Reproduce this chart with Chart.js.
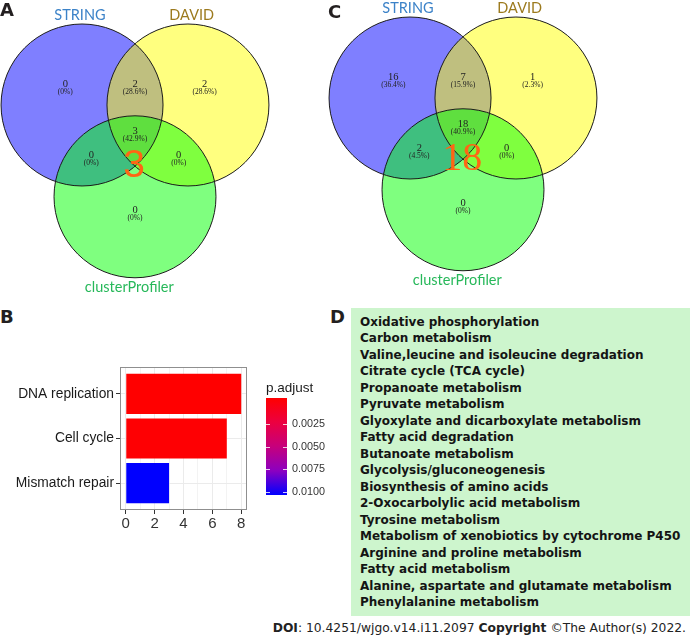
<!DOCTYPE html>
<html>
<head>
<meta charset="utf-8">
<script src="https://cdn.jsdelivr.net/npm/chart.js@4.4.0/dist/chart.umd.min.js"></script>
<style>
  html, body { margin: 0; padding: 0; background: #fff; }
  #fig { position: relative; width: 692px; height: 638px; overflow: hidden; }
  #fig canvas { position: absolute; }
  .tag { position: absolute; font: bold 18px 'DejaVu Sans', sans-serif; line-height: 18px; color: #231f20; }
  #listD {
    position: absolute; left: 351px; top: 308px; width: 339px; height: 308px;
    box-sizing: border-box; padding: 6px 0 0 9px; background: #cdf5cd;
    font: bold 12px 'DejaVu Sans', sans-serif; line-height: 16.47px; color: #141414;
  }
  #foot {
    position: absolute; right: 6px; top: 620px; white-space: nowrap;
    font: 12.3px 'DejaVu Sans', sans-serif; line-height: 16px; color: #222;
  }
</style>
</head>
<body>
<div id="fig">
  <canvas id="vennA" width="270" height="300" style="left:0;top:0"></canvas>
  <canvas id="vennC" width="270" height="300" style="left:328px;top:0"></canvas>
  <canvas id="barB" width="346" height="200" style="left:0;top:340px"></canvas>
  <div id="listD"></div>
  <div class="tag" style="left:0;top:1px">A</div>
  <div class="tag" style="left:328px;top:3px">C</div>
  <div class="tag" style="left:0;top:308px">B</div>
  <div class="tag" style="left:330px;top:308px">D</div>
  <div id="foot"><b>DOI</b>: 10.4251/wjgo.v14.i11.2097 <b>Copyright</b> ©The Author(s) 2022.</div>
</div>
<script>
/* ---------- data ---------- */
const VENN_SETS = ['STRING', 'DAVID', 'clusterProfiler'];
// regions: S only, S&D, D only, S&C, S&D&C, D&C, C only
const COUNTS_A = [0, 2, 2, 0, 3, 0, 0];
const COUNTS_C = [16, 7, 1, 2, 18, 0, 0];

const PATHWAYS_B = ['DNA replication', 'Cell cycle', 'Mismatch repair'];
const GENE_COUNT_B = [8, 7, 3];
const P_ADJUST_B = [0.0002, 0.0003, 0.0101];
const COUNT_TICKS = [0, 1, 2, 3, 4, 5, 6, 7, 8];
const P_TICKS = [0.0025, 0.0050, 0.0075, 0.0100];

const PATHWAYS_D = [
  'Oxidative phosphorylation',
  'Carbon metabolism',
  'Valine,leucine and isoleucine degradation',
  'Citrate cycle (TCA cycle)',
  'Propanoate metabolism',
  'Pyruvate metabolism',
  'Glyoxylate and dicarboxylate metabolism',
  'Fatty acid degradation',
  'Butanoate metabolism',
  'Glycolysis/gluconeogenesis',
  'Biosynthesis of amino acids',
  '2-Oxocarbolylic acid metabolism',
  'Tyrosine metabolism',
  'Metabolism of xenobiotics by cytochrome P450',
  'Arginine and proline metabolism',
  'Fatty acid metabolism',
  'Alanine, aspartate and glutamate metabolism',
  'Phenylalanine metabolism',
];

/* ---------- layout / style ---------- */
const VENN_LAYOUT = {
  r: 1,
  centers: [[-0.654, 0], [0.654, 0], [0, -1.133]],
  fills: ['rgba(0,0,255,0.5)', 'rgba(255,255,0,0.5)', 'rgba(0,255,0,0.5)'],
  labelPos: [[-0.68, 1.11], [0.7, 1.11], [-0.07, -2.25]],
  labelColors: ['#3b82c8', '#9c7a1e', '#27b85a'],
  regionPos: [[-0.86, 0.26], [0, 0.26], [0.86, 0.26], [-0.54, -0.62], [0, -0.32], [0.54, -0.62], [0, -1.3]],
  bigPos: [-0.01, -0.76],
};
const GRAD_STOPS = [[0, '#ff0000'], [0.25, '#ec0040'], [0.5, '#c6007c'], [0.75, '#8c00c0'], [1, '#0000ff']];
const LEGEND_LIMITS = [-0.00043, 0.01037];

Chart.defaults.font.family = "'Liberation Sans', Arial, sans-serif";

function hexRgb(h) { return [1, 3, 5].map(i => parseInt(h.slice(i, i + 2), 16)); }
function gradAt(t) {
  t = Math.max(0, Math.min(1, t));
  for (let i = 1; i < GRAD_STOPS.length; i++) {
    const [t1, c1] = GRAD_STOPS[i];
    const [t0, c0] = GRAD_STOPS[i - 1];
    if (t <= t1) {
      const f = (t - t0) / (t1 - t0), a = hexRgb(c0), b = hexRgb(c1);
      return `rgb(${a.map((v, k) => Math.round(v + (b[k] - v) * f)).join(',')})`;
    }
  }
  return GRAD_STOPS[GRAD_STOPS.length - 1][1];
}
const P_MIN = Math.min(...P_ADJUST_B), P_MAX = Math.max(...P_ADJUST_B);
const pColor = p => gradAt((p - P_MIN) / (P_MAX - P_MIN));

/* ---------- Venn panels ---------- */
const vennText = {
  id: 'vennText',
  afterDatasetsDraw(chart, args, opts) {
    const { ctx, scales: { x, y } } = chart;
    const counts = opts.counts;
    const total = counts.reduce((a, b) => a + b, 0);
    ctx.save();
    ctx.textAlign = 'center';
    ctx.textBaseline = 'middle';
    counts.forEach((n, i) => {
      const px = x.getPixelForValue(VENN_LAYOUT.regionPos[i][0]);
      const py = y.getPixelForValue(VENN_LAYOUT.regionPos[i][1]);
      const pct = n === 0 ? '0%' : (n / total * 100).toFixed(1) + '%';
      ctx.fillStyle = '#222';
      ctx.font = "10.5px 'Liberation Serif'";
      ctx.fillText(String(n), px, py);
      ctx.font = "7.5px 'Liberation Serif'";
      ctx.fillText('(' + pct + ')', px, py + 8);
    });
    ctx.font = "14.5px Lato";
    VENN_SETS.forEach((name, i) => {
      ctx.fillStyle = VENN_LAYOUT.labelColors[i];
      ctx.fillText(name, x.getPixelForValue(VENN_LAYOUT.labelPos[i][0]), y.getPixelForValue(VENN_LAYOUT.labelPos[i][1]));
    });
    ctx.fillStyle = '#ff6614';
    ctx.font = opts.bigFont;
    ctx.fillText(String(counts[4]), x.getPixelForValue(VENN_LAYOUT.bigPos[0]), y.getPixelForValue(VENN_LAYOUT.bigPos[1]));
    ctx.restore();
  },
};

function makeVenn(id, counts, yRange, bigFont) {
  const pts = VENN_LAYOUT.centers.map(([x, y]) => ({ x, y }));
  const radius = c => c.chart.scales.x.getPixelForValue(VENN_LAYOUT.r) - c.chart.scales.x.getPixelForValue(0);
  return new Chart(document.getElementById(id), {
    type: 'scatter',
    data: {
      datasets: [
        { data: pts, order: 2, pointRadius: radius, pointBackgroundColor: VENN_LAYOUT.fills, pointBorderWidth: 0, clip: false },
        { data: pts, order: 1, pointRadius: radius, pointBackgroundColor: 'rgba(0,0,0,0)', pointBorderColor: '#1a1a1a', pointBorderWidth: 1, clip: false },
      ],
    },
    options: {
      responsive: false,
      animation: false,
      events: [],
      layout: { padding: 0 },
      plugins: { legend: { display: false }, tooltip: { enabled: false }, vennText: { counts, bigFont } },
      scales: {
        x: { type: 'linear', display: false, min: -1.667, max: 1.667 },
        y: { type: 'linear', display: false, min: yRange[0], max: yRange[1] },
      },
    },
    plugins: [vennText],
  });
}

makeVenn('vennA', COUNTS_A, [-2.407, 1.296], "39px 'Liberation Sans'");
makeVenn('vennC', COUNTS_C, [-2.494, 1.210], "40px 'Liberation Serif'");

/* ---------- bar panel B ---------- */
const panelB = {
  id: 'panelB',
  afterDraw(chart) {
    const { ctx, chartArea: a } = chart;
    ctx.save();
    ctx.strokeStyle = '#8f8f8f';
    ctx.lineWidth = 1;
    ctx.strokeRect(a.left + 0.5, a.top + 0.5, a.right - a.left - 1, a.bottom - a.top - 1);

    // colour bar legend
    const cx = a.right + 19, cw = 21, top = a.top + 31, h = 97;
    const g = ctx.createLinearGradient(0, top, 0, top + h);
    GRAD_STOPS.forEach(([t, c]) => g.addColorStop(t, c));
    ctx.fillStyle = g;
    ctx.fillRect(cx, top, cw, h);
    ctx.fillStyle = '#1a1a1a';
    ctx.font = "13.5px 'Liberation Sans'";
    ctx.textAlign = 'left';
    ctx.textBaseline = 'middle';
    ctx.fillText('p.adjust', cx, a.top + 21);
    ctx.font = "10.8px 'Liberation Sans'";
    ctx.fillStyle = '#333';
    P_TICKS.forEach(p => {
      const py = Math.round(top + (p - LEGEND_LIMITS[0]) / (LEGEND_LIMITS[1] - LEGEND_LIMITS[0]) * h) + 0.5;
      ctx.strokeStyle = 'rgba(255,255,255,0.8)';
      ctx.beginPath();
      ctx.moveTo(cx, py); ctx.lineTo(cx + 4, py);
      ctx.moveTo(cx + cw - 4, py); ctx.lineTo(cx + cw, py);
      ctx.stroke();
      ctx.fillText(p.toFixed(4), cx + 26, py);
    });
    ctx.restore();
  },
};

new Chart(document.getElementById('barB'), {
  type: 'bar',
  data: {
    datasets: [{
      data: PATHWAYS_B.map((name, i) => ({ x: GENE_COUNT_B[i], y: i + 1 })),
      backgroundColor: P_ADJUST_B.map(pColor),
      borderWidth: 0,
      barPercentage: 0.9,
      categoryPercentage: 1,
    }],
  },
  options: {
    indexAxis: 'y',
    responsive: false,
    animation: false,
    events: [],
    layout: { padding: { top: 27, right: 99, left: 0, bottom: 10 } },
    plugins: { legend: { display: false }, tooltip: { enabled: false } },
    scales: {
      x: {
        type: 'linear', min: -0.4, max: 8.4, offset: false,
        afterBuildTicks: s => { s.ticks = COUNT_TICKS.map(v => ({ value: v })); },
        afterFit: s => { s.height = 20; },
        border: { display: false },
        grid: {
          offset: false,
          color: c => (c.tick && c.tick.value % 2 ? '#f3f3f3' : '#ebebeb'),
          tickColor: c => (c.tick && c.tick.value % 2 ? 'rgba(0,0,0,0)' : '#333'),
          tickLength: 4,
        },
        ticks: {
          autoSkip: false, maxRotation: 0, padding: 1, color: '#333', font: { size: 15 },
          callback: v => (v % 2 === 0 ? String(v) : ''),
        },
      },
      y: {
        type: 'linear', min: 0.4, max: 3.6, reverse: true, offset: false,
        afterBuildTicks: s => { s.ticks = PATHWAYS_B.map((_, i) => ({ value: i + 1 })); },
        afterFit: s => { s.width = 120; },
        border: { display: false },
        grid: { offset: false, color: '#ebebeb', tickColor: '#333', tickLength: 4 },
        ticks: {
          autoSkip: false, padding: 2, color: '#1a1a1a', font: { size: 13.8 },
          callback: v => PATHWAYS_B[Math.round(v) - 1],
        },
      },
    },
  },
  plugins: [panelB],
});

/* ---------- list panel D ---------- */
document.getElementById('listD').innerHTML = PATHWAYS_D.map(t => `<div>${t}</div>`).join('');
</script>
</body>
</html>
